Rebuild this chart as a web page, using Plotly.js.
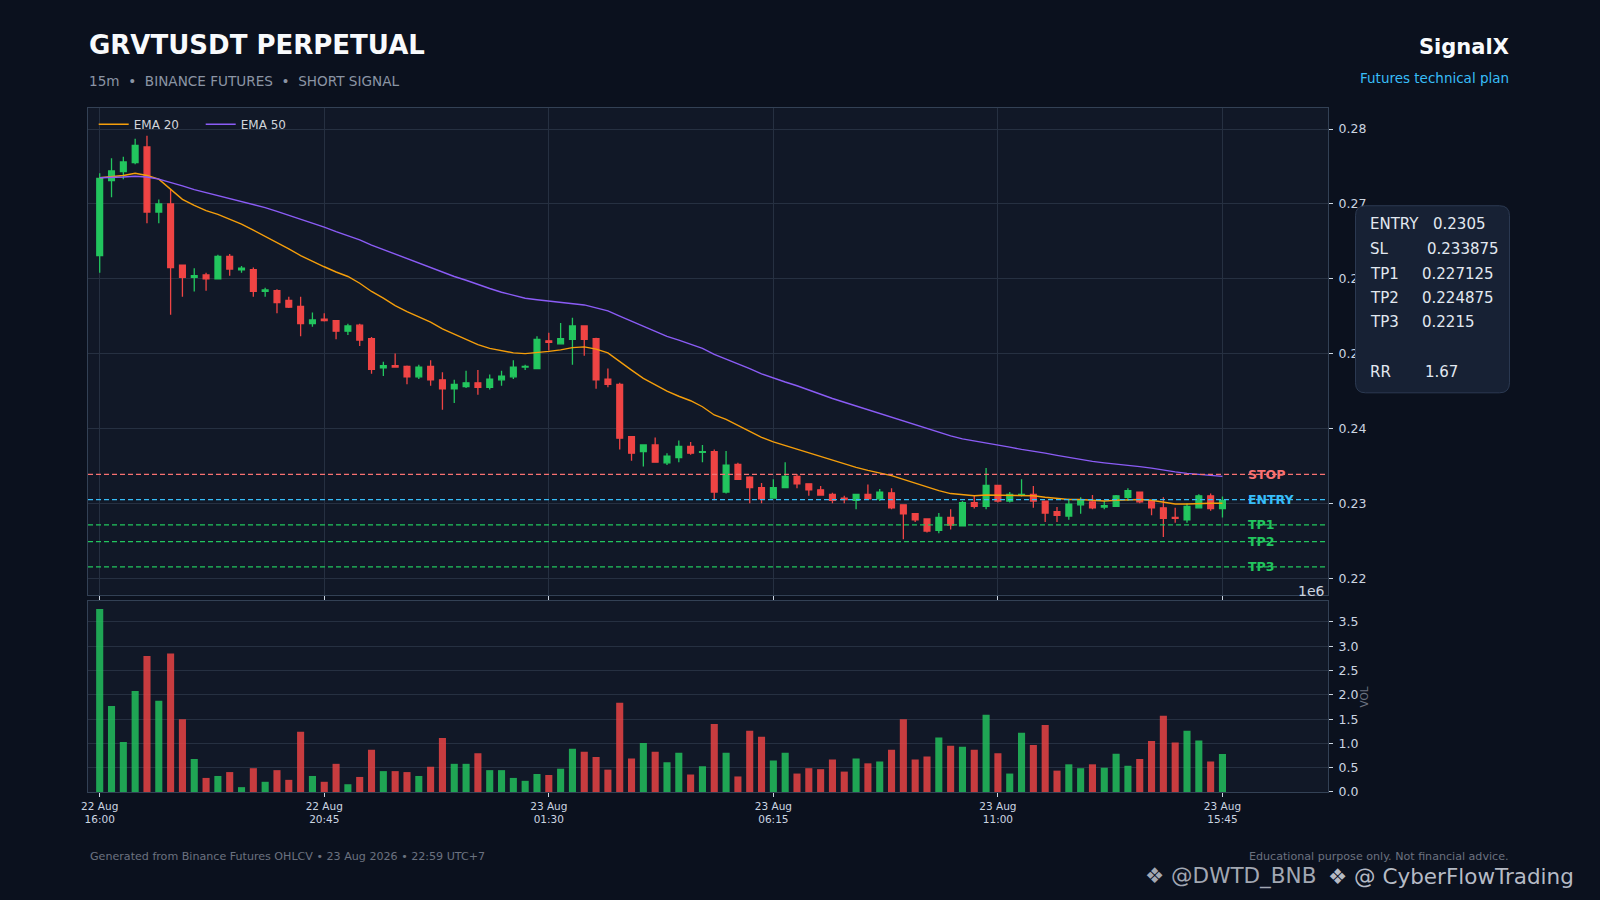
<!DOCTYPE html>
<html><head><meta charset="utf-8">
<script src="https://cdn.plot.ly/plotly-3.0.1.min.js"></script>
<style>html,body{margin:0;padding:0;background:#0b111e;}#chart{width:1600px;height:900px;}</style>
</head><body><div id="chart"></div>
<script>
// ---------- data ----------
const startUTC = Date.UTC(2026, 7, 22, 16, 0, 0);   // 22 Aug 16:00, 15m candles
const stepMs = 15 * 60 * 1000;

const opens = [0.2631,0.2731,0.2743,0.2755,0.2776,0.2689,0.2700,0.2618,0.2602,0.2605,
0.2600,0.2630,0.2612,0.2612,0.2583,0.2584,0.2571,0.2563,0.2540,0.2546,
0.2544,0.2530,0.2538,0.2520,0.2481,0.2484,0.2483,0.2469,0.2483,0.2465,
0.2453,0.2456,0.2461,0.2455,0.2465,0.2469,0.2482,0.2480,0.2517,0.2513,
0.2519,0.2537,0.2520,0.2466,0.2459,0.2389,0.2369,0.2378,0.2354,0.2361,
0.2376,0.2368,0.2369,0.2315,0.2352,0.2335,0.2321,0.2307,0.2321,0.2336,
0.2326,0.2318,0.2312,0.2307,0.2304,0.2312,0.2306,0.2314,0.2298,0.2286,
0.2279,0.2264,0.2281,0.2270,0.2301,0.2296,0.2324,0.2303,0.2311,0.2312,
0.2303,0.2289,0.2283,0.2298,0.2302,0.2295,0.2296,0.2308,0.2315,0.2303,
0.2294,0.2281,0.2278,0.2294,0.2310,0.2293];
const highs = [0.2741,0.2761,0.2763,0.2787,0.2791,0.2706,0.2719,0.2618,0.2614,0.2608,
0.2632,0.2633,0.2617,0.2615,0.2588,0.2586,0.2576,0.2576,0.2555,0.2554,
0.2545,0.2540,0.2540,0.2522,0.2489,0.2500,0.2484,0.2485,0.2491,0.2475,
0.2465,0.2477,0.2478,0.2472,0.2477,0.2491,0.2485,0.2523,0.2528,0.2541,
0.2548,0.2537,0.2521,0.2480,0.2461,0.2389,0.2378,0.2388,0.2367,0.2384,
0.2382,0.2378,0.2372,0.2370,0.2354,0.2336,0.2327,0.2332,0.2355,0.2339,
0.2326,0.2323,0.2314,0.2310,0.2312,0.2325,0.2319,0.2320,0.2298,0.2287,
0.2279,0.2287,0.2292,0.2303,0.2310,0.2347,0.2324,0.2315,0.2332,0.2323,
0.2303,0.2295,0.2306,0.2308,0.2311,0.2303,0.2311,0.2320,0.2315,0.2304,
0.2308,0.2294,0.2300,0.2312,0.2313,0.2309];
const lows = [0.2608,0.2709,0.2733,0.2753,0.2674,0.2674,0.2552,0.2576,0.2583,0.2584,
0.2599,0.2604,0.2608,0.2576,0.2576,0.2554,0.2561,0.2523,0.2536,0.2543,
0.2519,0.2525,0.2510,0.2473,0.2470,0.2481,0.2459,0.2466,0.2457,0.2425,
0.2434,0.2454,0.2445,0.2452,0.2457,0.2466,0.2478,0.2480,0.2504,0.2512,
0.2485,0.2497,0.2453,0.2455,0.2372,0.2357,0.2349,0.2355,0.2351,0.2355,
0.2365,0.2355,0.2304,0.2313,0.2332,0.2300,0.2300,0.2306,0.2321,0.2320,
0.2310,0.2310,0.2300,0.2300,0.2292,0.2306,0.2303,0.2292,0.2252,0.2275,
0.2261,0.2260,0.2265,0.2269,0.2293,0.2292,0.2301,0.2301,0.2309,0.2294,
0.2275,0.2275,0.2278,0.2286,0.2292,0.2292,0.2295,0.2303,0.2300,0.2284,
0.2255,0.2274,0.2274,0.2293,0.2290,0.2281];
const closes = [0.2734,0.2744,0.2756,0.2778,0.2689,0.2700,0.2615,0.2602,0.2604,0.2600,
0.2630,0.2613,0.2614,0.2583,0.2585,0.2568,0.2562,0.2540,0.2545,0.2544,
0.2530,0.2537,0.2518,0.2479,0.2484,0.2482,0.2469,0.2482,0.2465,0.2453,
0.2459,0.2461,0.2455,0.2466,0.2470,0.2482,0.2483,0.2519,0.2515,0.2520,
0.2537,0.2519,0.2465,0.2459,0.2387,0.2367,0.2378,0.2355,0.2363,0.2376,
0.2367,0.2369,0.2315,0.2351,0.2332,0.2321,0.2306,0.2321,0.2336,0.2326,
0.2318,0.2311,0.2304,0.2305,0.2312,0.2306,0.2315,0.2294,0.2286,0.2278,
0.2263,0.2281,0.2271,0.2301,0.2296,0.2324,0.2303,0.2312,0.2312,0.2303,
0.2287,0.2284,0.2299,0.2304,0.2294,0.2297,0.2310,0.2317,0.2302,0.2294,
0.2280,0.2280,0.2296,0.2310,0.2293,0.2304];
const volumes = [3770000,1770000,1030000,2080000,2800000,1880000,2850000,1500000,680000,290000,
330000,410000,100000,490000,210000,450000,250000,1240000,330000,210000,
580000,160000,310000,870000,430000,430000,410000,330000,520000,1110000,
580000,580000,800000,450000,450000,290000,230000,370000,350000,480000,
890000,830000,720000,460000,1840000,690000,1010000,830000,610000,810000,
360000,530000,1400000,810000,320000,1260000,1140000,650000,810000,380000,
490000,470000,670000,420000,690000,590000,630000,870000,1500000,670000,
730000,1120000,950000,930000,870000,1590000,800000,380000,1220000,970000,
1380000,440000,570000,490000,570000,500000,790000,540000,680000,1050000,
1570000,1020000,1260000,1060000,630000,780000];
const ema20 = [0.2735,0.2736,0.2738,0.2741,0.2738,0.2733,0.2720,0.2706,0.2698,0.2691,
0.2686,0.2680,0.2673,0.2665,0.2657,0.2649,0.2640,0.2631,0.2623,0.2616,
0.2609,0.2603,0.2594,0.2583,0.2574,0.2564,0.2556,0.2549,0.2542,0.2533,
0.2526,0.2520,0.2512,0.2507,0.2504,0.2501,0.2500,0.2502,0.2503,0.2505,
0.2508,0.2509,0.2506,0.2501,0.2489,0.2478,0.2467,0.2458,0.2450,0.2443,
0.2437,0.2429,0.2418,0.2412,0.2404,0.2396,0.2388,0.2382,0.2377,0.2373,
0.2368,0.2362,0.2357,0.2352,0.2348,0.2344,0.2341,0.2337,0.2332,0.2327,
0.2321,0.2317,0.2313,0.2312,0.2310,0.2311,0.2311,0.2311,0.2311,0.2310,
0.2308,0.2306,0.2305,0.2305,0.2304,0.2303,0.2304,0.2305,0.2305,0.2304,
0.2301,0.2299,0.2299,0.2300,0.2300,0.2300];
const ema50 = [0.2735,0.2735,0.2736,0.2737,0.2736,0.2733,0.2729,0.2724,0.2719,0.2715,
0.2712,0.2708,0.2704,0.2700,0.2695,0.2690,0.2685,0.2679,0.2674,0.2669,
0.2663,0.2658,0.2652,0.2645,0.2639,0.2634,0.2627,0.2621,0.2615,0.2609,
0.2603,0.2598,0.2592,0.2587,0.2582,0.2578,0.2574,0.2572,0.2570,0.2568,
0.2567,0.2565,0.2561,0.2557,0.2550,0.2543,0.2537,0.2530,0.2523,0.2518,
0.2512,0.2507,0.2499,0.2493,0.2487,0.2480,0.2473,0.2467,0.2462,0.2457,
0.2451,0.2446,0.2440,0.2435,0.2430,0.2425,0.2421,0.2416,0.2411,0.2406,
0.2400,0.2395,0.2390,0.2386,0.2383,0.2380,0.2377,0.2375,0.2372,0.2370,
0.2367,0.2364,0.2361,0.2359,0.2356,0.2354,0.2352,0.2351,0.2349,0.2347,
0.2344,0.2342,0.2340,0.2339,0.2337,0.2336];

const tickIndex = [0, 19, 38, 57, 76, 95];
const tickLabels = ['22 Aug<br>16:00','22 Aug<br>20:45','23 Aug<br>01:30','23 Aug<br>06:15','23 Aug<br>11:00','23 Aug<br>15:45'];
const priceTicks = [0.22, 0.23, 0.24, 0.25, 0.26, 0.27, 0.28];
const priceTickText = ['0.22','0.23','0.24','0.25','0.26','0.27','0.28'];
const volTicks = [0, 500000, 1000000, 1500000, 2000000, 2500000, 3000000, 3500000];
const volTickText = ['0.0','0.5','1.0','1.5','2.0','2.5','3.0','3.5'];
const levelNames = ['STOP','ENTRY','TP1','TP2','TP3'];
const levelPrices = [0.233875, 0.2305, 0.227125, 0.224875, 0.2215];
const levelColors = ['#f87171','#38bdf8','#22c55e','#22c55e','#22c55e'];
const planLabels = ['ENTRY','SL','TP1','TP2','TP3','RR'];
const planValues = ['0.2305','0.233875','0.227125','0.224875','0.2215','1.67'];

// ---------- helpers ----------
const fmt = ms => new Date(ms).toISOString().slice(0, 19).replace('T', ' ');
const times = opens.map((_, i) => fmt(startUTC + i * stepMs));
const tickVals = tickIndex.map(i => times[i]);

const L = 88.3, R = 1328.5, T = 108.3, B = 792;
const W = R - L, H = B - T;
const px = X => (X - L) / W;
const py = Y => (B - Y) / H;

const UP = '#22c55e', DOWN = '#ef4444';
const volColors = closes.map((c, i) => c >= opens[i] ? 'rgba(34,197,94,0.82)' : 'rgba(239,68,68,0.82)');

function roundedRect(X0, Y0, X1, Y1, r) {
  const x0 = px(X0), x1 = px(X1), yT = py(Y0), yB = py(Y1), rx = r / W, ry = r / H;
  return `M ${x0+rx},${yT} L ${x1-rx},${yT} Q ${x1},${yT} ${x1},${yT-ry} L ${x1},${yB+ry} Q ${x1},${yB} ${x1-rx},${yB} L ${x0+rx},${yB} Q ${x0},${yB} ${x0},${yB+ry} L ${x0},${yT-ry} Q ${x0},${yT} ${x0+rx},${yT} Z`;
}

// ---------- traces ----------
const traces = [
  {type: 'candlestick', x: times, open: opens, high: highs, low: lows, close: closes,
   xaxis: 'x', yaxis: 'y', whiskerwidth: 0, showlegend: false, hoverinfo: 'skip',
   increasing: {line: {color: UP, width: 1.3}, fillcolor: UP},
   decreasing: {line: {color: DOWN, width: 1.3}, fillcolor: DOWN}},
  {type: 'scatter', mode: 'lines', name: 'EMA 20', x: times, y: ema20, xaxis: 'x', yaxis: 'y',
   line: {color: '#f59e0b', width: 1.4}, hoverinfo: 'skip'},
  {type: 'scatter', mode: 'lines', name: 'EMA 50', x: times, y: ema50, xaxis: 'x', yaxis: 'y',
   line: {color: '#8b5cf6', width: 1.4}, hoverinfo: 'skip'},
  {type: 'bar', x: times, y: volumes, xaxis: 'x2', yaxis: 'y2', width: 0.6 * stepMs,
   marker: {color: volColors, line: {width: 0}}, showlegend: false, hoverinfo: 'skip'}
];

// ---------- layout ----------
const xRange = [fmt(startUTC - 0.99 * stepMs), fmt(startUTC + 103.93 * stepMs)];
const gridC = '#263041', lineC = '#334155', tickC = '#cbd5e1';
const FONT = 'DejaVu Sans';

const shapes = levelPrices.map((p, i) => ({
  type: 'line', xref: 'x domain', x0: 0, x1: 1, yref: 'y', y0: p, y1: p,
  line: {color: levelColors[i], width: 1.3, dash: '5px,3px'}
}));
shapes.push({type: 'path', xref: 'paper', yref: 'paper', layer: 'above',
  path: roundedRect(1356, 206, 1510, 393, 10),
  fillcolor: '#172134', line: {color: '#2c3a52', width: 1}});

const annotations = [];
const txt = (X, Y, text, size, color, anchor, extra) => annotations.push(Object.assign({
  xref: 'paper', yref: 'paper', x: px(X), y: py(Y), text: text, showarrow: false,
  xanchor: anchor, yanchor: 'middle', font: {family: FONT, size: size, color: color}
}, extra || {}));

txt(87, 45, '<b>GRVTUSDT PERPETUAL</b>', 26, '#f8fafc', 'left');
txt(87, 81, '15m\u00a0\u00a0•\u00a0\u00a0BINANCE FUTURES\u00a0\u00a0•\u00a0\u00a0SHORT SIGNAL', 13.6, '#8b95a5', 'left');
txt(1512, 47, '<b>SignalX</b>', 21, '#f8fafc', 'right');
txt(1512, 78.5, 'Futures technical plan', 13.5, '#38bdf8', 'right');
txt(88, 856, 'Generated from Binance Futures OHLCV • 23 Aug 2026 • 22:59 UTC+7', 11.1, '#6b7280', 'left');
txt(1512, 856, 'Educational purpose only. Not financial advice.', 11.1, '#6b7280', 'right');
txt(1327, 591, '1e6', 14, tickC, 'right');
txt(1364, 697, 'VOL', 10.5, '#6b7280', 'center', {textangle: -90});

levelNames.forEach((n, i) => annotations.push({
  xref: 'paper', yref: 'y', x: px(1246), y: levelPrices[i], text: '<b>' + n + '</b>',
  showarrow: false, xanchor: 'left', yanchor: 'middle',
  font: {family: FONT, size: 12.5, color: levelColors[i]}
}));

const planY = [224.3, 249.3, 274, 298.3, 322.7, 372.3];
const planValX = [1432, 1425.7, 1421, 1421, 1421, 1424];
planLabels.forEach((lab, i) => {
  txt(1368.3, planY[i], lab, 15, '#e2e8f0', 'left');
  txt(planValX[i], planY[i], planValues[i], 15, '#e2e8f0', 'left');
});

// watermarks (kept side by side so they do not overlap)
txt(1326, 876, '❖ @ CyberFlowTrading', 21.5, 'rgba(214,219,228,0.85)', 'left');
txt(1318, 876, '❖ @DWTD_BNB', 21.5, 'rgba(214,219,228,0.75)', 'right');

const layout = {
  width: 1600, height: 900,
  paper_bgcolor: '#0b111e', plot_bgcolor: '#111827',
  margin: {l: L, r: 1600 - R, t: T, b: 900 - B, pad: 0},
  font: {family: FONT, color: tickC},
  hovermode: false, dragmode: false,
  showlegend: true,
  legend: {orientation: 'h', x: px(94), y: py(110), xanchor: 'left', yanchor: 'top',
           bgcolor: 'rgba(0,0,0,0)', borderwidth: 0, font: {family: FONT, size: 12, color: '#d1d5db'},
           entrywidth: 62, entrywidthmode: 'pixels'},
  xaxis: {type: 'date', range: xRange, anchor: 'y', domain: [0, 1],
          tickvals: tickVals, ticktext: tickLabels, showticklabels: false,
          ticks: 'outside', ticklen: 4, tickcolor: tickC, tickwidth: 1,
          showgrid: true, gridcolor: gridC, gridwidth: 1, zeroline: false,
          showline: true, mirror: true, linecolor: lineC, linewidth: 1,
          rangeslider: {visible: false}, fixedrange: true},
  yaxis: {domain: [py(595), 1], side: 'right', range: [0.21776, 0.28281],
          tickvals: priceTicks, ticktext: priceTickText,
          ticks: 'outside', ticklen: 4, tickcolor: tickC, tickwidth: 1, ticklabelstandoff: 3,
          tickfont: {family: FONT, size: 12.5, color: tickC},
          showgrid: true, gridcolor: gridC, gridwidth: 1, zeroline: false,
          showline: true, mirror: true, linecolor: lineC, linewidth: 1, fixedrange: true},
  xaxis2: {type: 'date', range: xRange, anchor: 'y2', domain: [0, 1],
           tickvals: tickVals, ticktext: tickLabels,
           ticks: 'outside', ticklen: 4, tickcolor: tickC, tickwidth: 1,
           tickfont: {family: FONT, size: 10.5, color: tickC},
           showgrid: false, zeroline: false,
           showline: true, mirror: true, linecolor: lineC, linewidth: 1, fixedrange: true},
  yaxis2: {domain: [0, py(600.7)], side: 'right', range: [0, 3940000],
           tickvals: volTicks, ticktext: volTickText,
           ticks: 'outside', ticklen: 4, tickcolor: tickC, tickwidth: 1, ticklabelstandoff: 3,
           tickfont: {family: FONT, size: 12.5, color: tickC},
           showgrid: true, gridcolor: gridC, gridwidth: 1, zeroline: false,
           showline: true, mirror: true, linecolor: lineC, linewidth: 1, fixedrange: true},
  shapes: shapes,
  annotations: annotations
};

Plotly.newPlot('chart', traces, layout, {displayModeBar: false, staticPlot: true});
</script>
</body></html>
